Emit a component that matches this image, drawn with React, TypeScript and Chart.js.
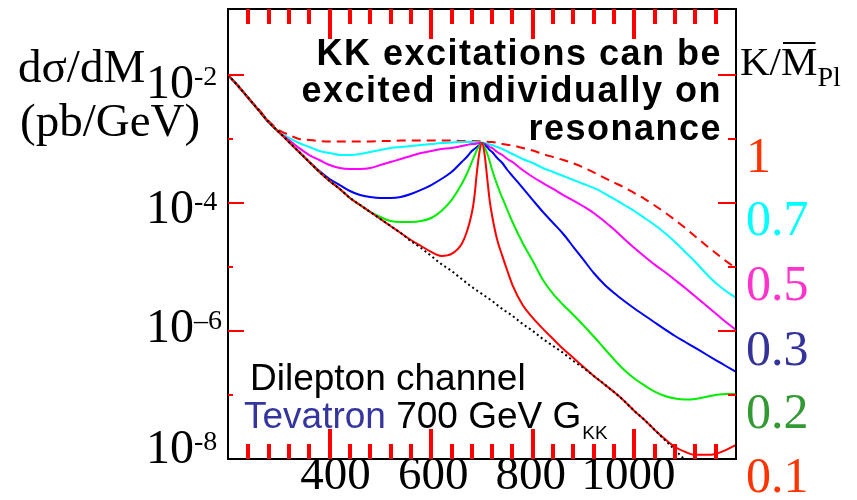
import { useEffect, useRef } from 'react';
import { Chart, registerables } from 'chart.js';

Chart.register(...registerables);

// ---------- data ----------
const massCoarse = [200, 220, 240, 260, 280, 300, 320, 340, 360, 380, 400, 420, 440, 460, 480, 500, 520, 540, 560, 580, 600, 620, 640, 660, 680, 700, 720, 740, 760, 780, 800, 820, 840, 860, 880, 900, 920, 940, 960, 980, 1000, 1020, 1040, 1060, 1080, 1100, 1120, 1140, 1160, 1180, 1200];
const massFine = [200, 220, 240, 260, 280, 300, 320, 340, 360, 380, 400, 420, 440, 460, 480, 500, 520, 540, 560, 580, 600, 620, 640, 660, 670, 680, 685, 690, 695, 700, 705, 710, 715, 720, 730, 740, 750, 760, 780, 800, 820, 840, 860, 880, 900, 920, 940, 960, 980, 1000, 1020, 1040, 1060, 1080, 1100, 1120, 1140, 1160, 1180, 1200];

const background = [1.00e-2, 6.73e-3, 4.37e-3, 2.84e-3, 1.84e-3, 1.29e-3, 8.98e-4, 6.27e-4, 4.37e-4, 3.05e-4, 2.21e-4, 1.66e-4, 1.20e-4, 9.31e-5, 7.24e-5, 5.62e-5, 4.37e-5, 3.40e-5, 2.55e-5, 1.98e-5, 1.49e-5, 1.11e-5, 8.66e-6, 6.49e-6, 4.87e-6, 3.79e-6, 2.94e-6, 2.21e-6, 1.72e-6, 1.29e-6, 1.00e-6, 7.50e-7, 5.83e-7, 4.53e-7, 3.40e-7, 2.64e-7, 1.98e-7, 1.49e-7, 1.11e-7, 8.06e-8, 5.62e-8, 4.07e-8, 2.84e-8, 1.98e-8, 1.38e-8, 9.65e-9, 6.73e-9];
const k10 = [1.00e-2, 6.73e-3, 4.37e-3, 2.94e-3, 1.91e-3, 1.38e-3, 1.16e-3, 1.00e-3, 9.65e-4, 9.31e-4, 9.15e-4, 9.15e-4, 9.15e-4, 9.15e-4, 9.15e-4, 9.31e-4, 9.31e-4, 9.48e-4, 9.48e-4, 9.48e-4, 9.48e-4, 9.48e-4, 9.48e-4, 9.31e-4, 9.31e-4, 9.15e-4, 8.98e-4, 8.35e-4, 7.92e-4, 7.24e-4, 6.60e-4, 5.83e-4, 5.23e-4, 4.70e-4, 4.15e-4, 3.59e-4, 3.00e-4, 2.50e-4, 2.09e-4, 1.75e-4, 1.43e-4, 1.16e-4, 9.14e-5, 7.11e-5, 5.43e-5, 4.07e-5, 3.00e-5, 2.21e-5, 1.66e-5, 1.24e-5, 9.65e-6];
const k07 = [1.00e-2, 6.73e-3, 4.37e-3, 2.84e-3, 1.84e-3, 1.29e-3, 1.04e-3, 8.66e-4, 7.50e-4, 6.49e-4, 6.04e-4, 5.62e-4, 5.62e-4, 5.83e-4, 6.27e-4, 6.73e-4, 7.24e-4, 7.50e-4, 7.77e-4, 8.06e-4, 8.35e-4, 8.66e-4, 8.82e-4, 8.98e-4, 8.98e-4, 8.98e-4, 8.98e-4, 8.90e-4, 8.85e-4, 8.80e-4, 8.66e-4, 8.50e-4, 8.20e-4, 8.06e-4, 7.50e-4, 6.98e-4, 6.38e-4, 5.83e-4, 4.87e-4, 4.22e-4, 3.52e-4, 3.05e-4, 2.64e-4, 2.29e-4, 1.98e-4, 1.72e-4, 1.43e-4, 1.16e-4, 9.31e-5, 7.50e-5, 5.83e-5, 4.53e-5, 3.40e-5, 2.46e-5, 1.72e-5, 1.20e-5, 8.06e-6, 5.62e-6, 4.22e-6, 3.28e-6];
const k05 = [1.00e-2, 6.73e-3, 4.37e-3, 2.84e-3, 1.84e-3, 1.29e-3, 9.65e-4, 7.24e-4, 5.62e-4, 4.70e-4, 3.92e-4, 3.52e-4, 3.40e-4, 3.40e-4, 3.52e-4, 3.92e-4, 4.37e-4, 4.87e-4, 5.43e-4, 6.04e-4, 6.49e-4, 6.98e-4, 7.24e-4, 7.77e-4, 8.06e-4, 8.35e-4, 8.35e-4, 8.50e-4, 8.66e-4, 8.66e-4, 8.35e-4, 8.06e-4, 7.50e-4, 7.24e-4, 6.27e-4, 5.62e-4, 4.87e-4, 4.37e-4, 3.28e-4, 2.55e-4, 2.05e-4, 1.66e-4, 1.33e-4, 1.09e-4, 8.82e-5, 6.98e-5, 5.23e-5, 3.85e-5, 2.74e-5, 1.98e-5, 1.46e-5, 1.09e-5, 8.35e-6, 6.27e-6, 4.70e-6, 3.46e-6, 2.55e-6, 1.88e-6, 1.38e-6, 1.04e-6];
const k03 = [1.00e-2, 6.73e-3, 4.37e-3, 2.84e-3, 1.84e-3, 1.29e-3, 8.98e-4, 6.27e-4, 4.37e-4, 3.16e-4, 2.37e-4, 1.91e-4, 1.54e-4, 1.33e-4, 1.24e-4, 1.20e-4, 1.20e-4, 1.24e-4, 1.38e-4, 1.60e-4, 1.91e-4, 2.37e-4, 3.05e-4, 4.37e-4, 5.23e-4, 6.49e-4, 6.98e-4, 7.50e-4, 8.06e-4, 8.66e-4, 8.06e-4, 7.50e-4, 6.73e-4, 6.27e-4, 5.05e-4, 4.22e-4, 3.28e-4, 2.64e-4, 1.72e-4, 1.11e-4, 7.24e-5, 4.87e-5, 3.28e-5, 2.05e-5, 1.29e-5, 8.06e-6, 5.43e-6, 3.92e-6, 2.94e-6, 2.25e-6, 1.75e-6, 1.36e-6, 1.06e-6, 8.35e-7, 6.73e-7, 5.43e-7, 4.37e-7, 3.52e-7, 2.84e-7, 2.29e-7];
const k02 = [1.00e-2, 6.73e-3, 4.37e-3, 2.84e-3, 1.84e-3, 1.29e-3, 8.98e-4, 6.27e-4, 4.37e-4, 3.05e-4, 2.21e-4, 1.66e-4, 1.20e-4, 9.31e-5, 7.24e-5, 6.04e-5, 5.23e-5, 5.05e-5, 5.05e-5, 5.23e-5, 5.83e-5, 7.50e-5, 1.11e-4, 1.98e-4, 2.84e-4, 4.37e-4, 5.43e-4, 6.73e-4, 7.77e-4, 8.66e-4, 7.50e-4, 6.04e-4, 4.53e-4, 3.28e-4, 1.91e-4, 1.20e-4, 7.77e-5, 5.05e-5, 2.37e-5, 1.24e-5, 6.27e-6, 3.79e-6, 2.55e-6, 1.78e-6, 1.22e-6, 8.20e-7, 5.43e-7, 3.59e-7, 2.46e-7, 1.81e-7, 1.41e-7, 1.13e-7, 9.65e-8, 8.82e-8, 8.50e-8, 8.66e-8, 9.31e-8, 1.00e-7, 1.04e-7, 1.04e-7];
const k01 = [1.00e-2, 6.73e-3, 4.37e-3, 2.84e-3, 1.84e-3, 1.29e-3, 8.98e-4, 6.27e-4, 4.37e-4, 3.05e-4, 2.21e-4, 1.66e-4, 1.20e-4, 9.31e-5, 7.24e-5, 5.62e-5, 4.37e-5, 3.40e-5, 2.64e-5, 2.13e-5, 1.72e-5, 1.49e-5, 1.60e-5, 2.29e-5, 3.52e-5, 6.98e-5, 1.24e-4, 3.05e-4, 6.27e-4, 8.66e-4, 5.83e-4, 2.55e-4, 1.11e-4, 6.27e-5, 2.64e-5, 1.49e-5, 8.66e-6, 5.23e-6, 2.55e-6, 1.60e-6, 1.08e-6, 7.50e-7, 5.23e-7, 3.79e-7, 2.74e-7, 1.98e-7, 1.49e-7, 1.11e-7, 8.06e-8, 5.62e-8, 4.07e-8, 2.84e-8, 2.05e-8, 1.54e-8, 1.29e-8, 1.16e-8, 1.16e-8, 1.20e-8, 1.38e-8, 1.66e-8];

const couplingLabels = ['1', '0.7', '0.5', '0.3', '0.2', '0.1'];
const xTickLabels = [400, 600, 800, 1000];
const yTickExponents = [-2, -4, -6, -8];

const SERIF = '"Liberation Serif", "DejaVu Serif", serif';
const SANS = '"Liberation Sans", Arial, sans-serif';
const couplingColors = ['#ff3300', '#00ffff', '#ff33cc', '#333399', '#339933', '#ff3300'];
const couplingBaselines = [172, 235, 300, 365, 428, 492];
const xLabelNudge = [6, 2, -2, -6];
const yLabelDrop = [23, 20, 11, 4];

const pts = (xs: number[], ys: number[]) => ys.map((y, i) => ({ x: xs[i], y }));

const overlay = {
  id: 'overlay',
  afterDraw(chart: any) {
    const { ctx, chartArea: a, scales } = chart;
    const xs = scales.x;
    const ys = scales.y;
    ctx.save();
    ctx.setLineDash([]);
    ctx.strokeStyle = '#000';
    ctx.fillStyle = '#000';
    ctx.lineWidth = 2;
    ctx.strokeRect(a.left, a.top, a.right - a.left, a.bottom - a.top);

    ctx.textBaseline = 'alphabetic';
    ctx.font = `47px ${SERIF}`;
    ctx.textAlign = 'center';
    xTickLabels.forEach((v, i) => {
      ctx.fillText(String(v), xs.getPixelForValue(v) + xLabelNudge[i], 489);
    });
    yTickExponents.forEach((e, i) => {
      const base = ys.getPixelForValue(Math.pow(10, e)) + yLabelDrop[i];
      ctx.font = `48px ${SERIF}`;
      ctx.textAlign = 'right';
      ctx.fillText('10', 194, base);
      ctx.font = `28px ${SERIF}`;
      ctx.textAlign = 'left';
      ctx.fillText((e === -6 ? '\u2013' : '-') + String(Math.abs(e)), 194, base - 13);
    });
    ctx.font = `47px ${SERIF}`;
    ctx.textAlign = 'left';
    ctx.fillText('d\u03c3/dM', 18, 82);
    ctx.fillText('(pb/GeV)', 20, 136);

    ctx.font = `41px ${SERIF}`;
    let hx = 740;
    ctx.fillText('K/', hx, 75);
    hx += ctx.measureText('K/').width;
    ctx.fillText('M', hx, 75);
    const mw = ctx.measureText('M').width;
    ctx.fillRect(hx + 2, 42, mw - 4, 2);
    hx += mw;
    ctx.font = `28px ${SERIF}`;
    ctx.fillText('Pl', hx, 86);

    ctx.font = `50px ${SERIF}`;
    couplingLabels.forEach((t, i) => {
      ctx.fillStyle = couplingColors[i];
      ctx.fillText(t, 746, couplingBaselines[i]);
    });

    ctx.fillStyle = '#000';
    ctx.font = `bold 36px ${SANS}`;
    ctx.textAlign = 'right';
    (ctx as any).letterSpacing = '1.5px';
    ctx.fillText('KK excitations can be', 722, 65);
    ctx.fillText('excited individually on', 722, 102);
    ctx.fillText('resonance', 722, 140);
    (ctx as any).letterSpacing = '0px';

    ctx.textAlign = 'left';
    ctx.font = `37px ${SANS}`;
    ctx.fillText('Dilepton channel', 250, 390);
    let tx = 244;
    ctx.fillStyle = '#3535a0';
    ctx.fillText('Tevatron', tx, 428);
    tx += ctx.measureText('Tevatron').width;
    ctx.fillStyle = '#000';
    ctx.fillText(' 700 GeV G', tx, 428);
    tx += ctx.measureText(' 700 GeV G').width;
    ctx.font = `19px ${SANS}`;
    ctx.fillText('KK', tx + 1, 439);

    // tick marks (diagnostic colour)
    ctx.fillStyle = '#ff0000';
    for (let v = 240; v < 1200; v += 40) {
      const px = Math.round(xs.getPixelForValue(v));
      const len = v % 200 === 0 ? 30 : 15;
      ctx.fillRect(px - 2, a.bottom - len, 4, len);
      ctx.fillRect(px - 2, a.top, 4, len);
    }
    for (let e = -7; e <= -2; e++) {
      const py = Math.round(ys.getPixelForValue(Math.pow(10, e)));
      const major = e % 2 === 0;
      const l1 = major ? 16 : 5;
      const l2 = major ? 18 : 8;
      ctx.fillRect(a.left, py - 1, l1, 2);
      ctx.fillRect(a.right - l2, py - 1, l2, 2);
    }
    ctx.restore();
  },
};

export default function App() {
  const ref = useRef<HTMLCanvasElement>(null);
  useEffect(() => {
    if (!ref.current) return;
    const line = (data: any, color: string, order: number, dash: number[] = []) => ({
      data,
      borderColor: color,
      borderWidth: 2,
      borderDash: dash,
      pointRadius: 0,
      fill: false,
      cubicInterpolationMode: 'monotone' as const,
      order,
    });
    const chart = new Chart(ref.current, {
      type: 'line',
      data: {
        datasets: [
          line(pts(massCoarse, background), '#000000', 0, [2, 3]),
          line(pts(massFine, k01), '#ff0000', 1),
          line(pts(massFine, k02), '#00ee00', 2),
          line(pts(massFine, k03), '#0000ff', 3),
          line(pts(massFine, k05), '#ff00ff', 4),
          line(pts(massFine, k07), '#00ffff', 5),
          line(pts(massCoarse, k10), '#ff0000', 6, [9, 6]),
        ],
      },
      options: {
        animation: false,
        responsive: false,
        devicePixelRatio: 1,
        layout: { padding: { left: 228, right: 121, top: 9, bottom: 41 } },
        plugins: { legend: { display: false }, tooltip: { enabled: false }, title: { display: false } },
        events: [],
        scales: {
          x: { type: 'linear', min: 200, max: 1200, display: false },
          y: { type: 'logarithmic', min: 1e-8, max: 0.1075, display: false },
        },
      },
      plugins: [overlay],
    });
    return () => chart.destroy();
  }, []);
  return (
    <div style={{ position: 'absolute', left: 0, top: 0, width: 857, height: 500, background: '#fff' }}>
      <canvas ref={ref} width={857} height={500} style={{ display: 'block' }} />
    </div>
  );
}
